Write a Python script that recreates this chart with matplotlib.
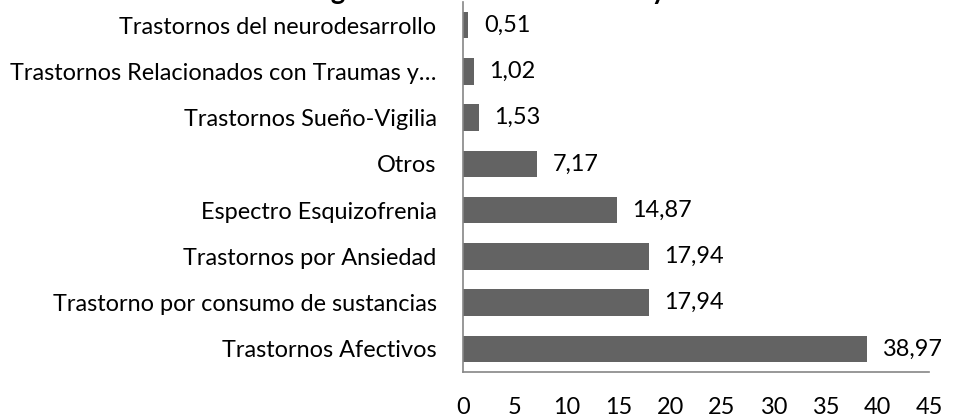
import matplotlib
matplotlib.use("Agg")
import matplotlib.pyplot as plt

# datos (de abajo hacia arriba, como en el gráfico)
categorias = [
    "Trastornos Afectivos",
    "Trastorno por consumo de sustancias",
    "Trastornos por Ansiedad",
    "Espectro Esquizofrenia",
    "Otros",
    "Trastornos Sueño-Vigilia",
    "Trastornos Relacionados con Traumas y…",
    "Trastornos del neurodesarrollo",
]
porcentajes = [38.97, 17.94, 17.94, 14.87, 7.17, 1.53, 1.02, 0.51]
xticks = [0, 5, 10, 15, 20, 25, 30, 35, 40, 45]
titulo = "Diagnósticos en salud mental y otros"

plt.rcParams['font.family'] = ['Lato', 'DejaVu Sans']
FS = 16.9

fig = plt.figure(figsize=(9.71, 4.18), dpi=100)
ax = fig.add_axes([463 / 971, 1 - 372 / 418, (929 - 463) / 971, 370 / 418])

pos = range(len(categorias))
bars = ax.barh(pos, porcentajes, height=0.57, color='#636363')

for b, v in zip(bars, porcentajes):
    ax.text(b.get_width() + 1.5, b.get_y() + b.get_height() / 2,
            f"{v:.2f}".replace('.', ','), va='center', ha='left',
            fontsize=FS, color='#000000')

ax.set_xlim(0, 45)
ax.set_ylim(-0.5, len(categorias) - 0.5)
ax.set_xticks(xticks)
ax.set_xticklabels([str(t) for t in xticks])
ax.set_yticks(list(pos))
ax.set_yticklabels(categorias)
ax.tick_params(axis='both', length=0, labelsize=FS, colors='#000000')
ax.tick_params(axis='y', pad=19)
ax.tick_params(axis='x', pad=18)

for s in ['top', 'right']:
    ax.spines[s].set_visible(False)
for s in ['left', 'bottom']:
    ax.spines[s].set_color('#868686')
    ax.spines[s].set_linewidth(1.2)

# título recortado: solo asoman los trazos descendentes
fig.text(0.528, 1 + 1 / 418, titulo, ha='center', va='baseline',
         fontsize=19.8, fontweight='bold')

fig.savefig("out.png", dpi=100)
